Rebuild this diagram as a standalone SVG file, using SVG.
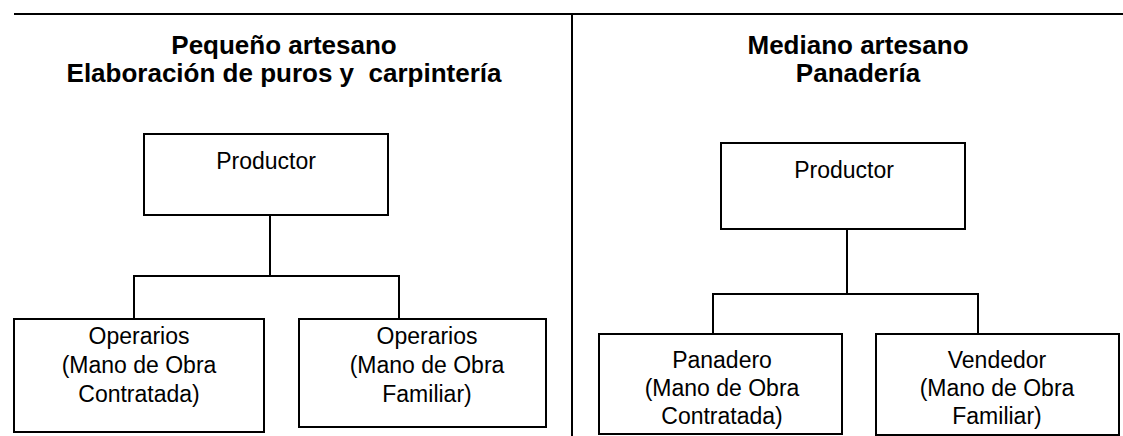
<svg xmlns="http://www.w3.org/2000/svg" width="1123" height="436" viewBox="0 0 1123 436">
<style>
.box{fill:#fff;stroke:#000;stroke-width:2}
.ln{stroke:#000;stroke-width:2;fill:none}
.t{font-family:"Liberation Sans",Arial,sans-serif;font-size:23px;fill:#000;text-anchor:middle}
.h{font-family:"Liberation Sans",Arial,sans-serif;font-size:26px;font-weight:bold;fill:#000;text-anchor:middle}
</style>
<rect width="1123" height="436" fill="#fff"/>
<g id="frame">
<line class="ln" x1="14" y1="14" x2="1123" y2="14"/>
<line class="ln" x1="572" y1="14" x2="572" y2="436"/>
</g>
<g id="titles">
<text class="h" x="284" y="54">Pequeño artesano</text>
<text class="h" x="284" y="82" xml:space="preserve">Elaboración de puros y  carpintería</text>
<text class="h" x="858" y="54">Mediano artesano</text>
<text class="h" x="858" y="82">Panadería</text>
</g>
<g id="connectors">
<polyline class="ln" points="270,215 270,276"/>
<polyline class="ln" points="134,319 134,276 399,276 399,319"/>
<polyline class="ln" points="847,229 847,294"/>
<polyline class="ln" points="713,334 713,294 978,294 978,334"/>
</g>
<g id="productor-left">
<rect class="box" x="144" y="134" width="244" height="81"/>
<text class="t" x="266" y="169">Productor</text>
</g>
<g id="operarios-contratada">
<rect class="box" x="14" y="319" width="250" height="113"/>
<text class="t" x="139" y="344">Operarios</text>
<text class="t" x="139" y="373">(Mano de Obra</text>
<text class="t" x="139" y="402">Contratada)</text>
</g>
<g id="operarios-familiar">
<rect class="box" x="299" y="319" width="247" height="108"/>
<text class="t" x="427" y="344">Operarios</text>
<text class="t" x="427" y="373">(Mano de Obra</text>
<text class="t" x="427" y="402">Familiar)</text>
</g>
<g id="productor-right">
<rect class="box" x="721" y="143" width="244" height="86"/>
<text class="t" x="844" y="178">Productor</text>
</g>
<g id="panadero">
<rect class="box" x="599" y="334" width="243" height="100"/>
<text class="t" x="722" y="368">Panadero</text>
<text class="t" x="722" y="396">(Mano de Obra</text>
<text class="t" x="722" y="424">Contratada)</text>
</g>
<g id="vendedor">
<rect class="box" x="876" y="334" width="243" height="101"/>
<text class="t" x="997" y="368">Vendedor</text>
<text class="t" x="997" y="396">(Mano de Obra</text>
<text class="t" x="997" y="424">Familiar)</text>
</g>
</svg>
